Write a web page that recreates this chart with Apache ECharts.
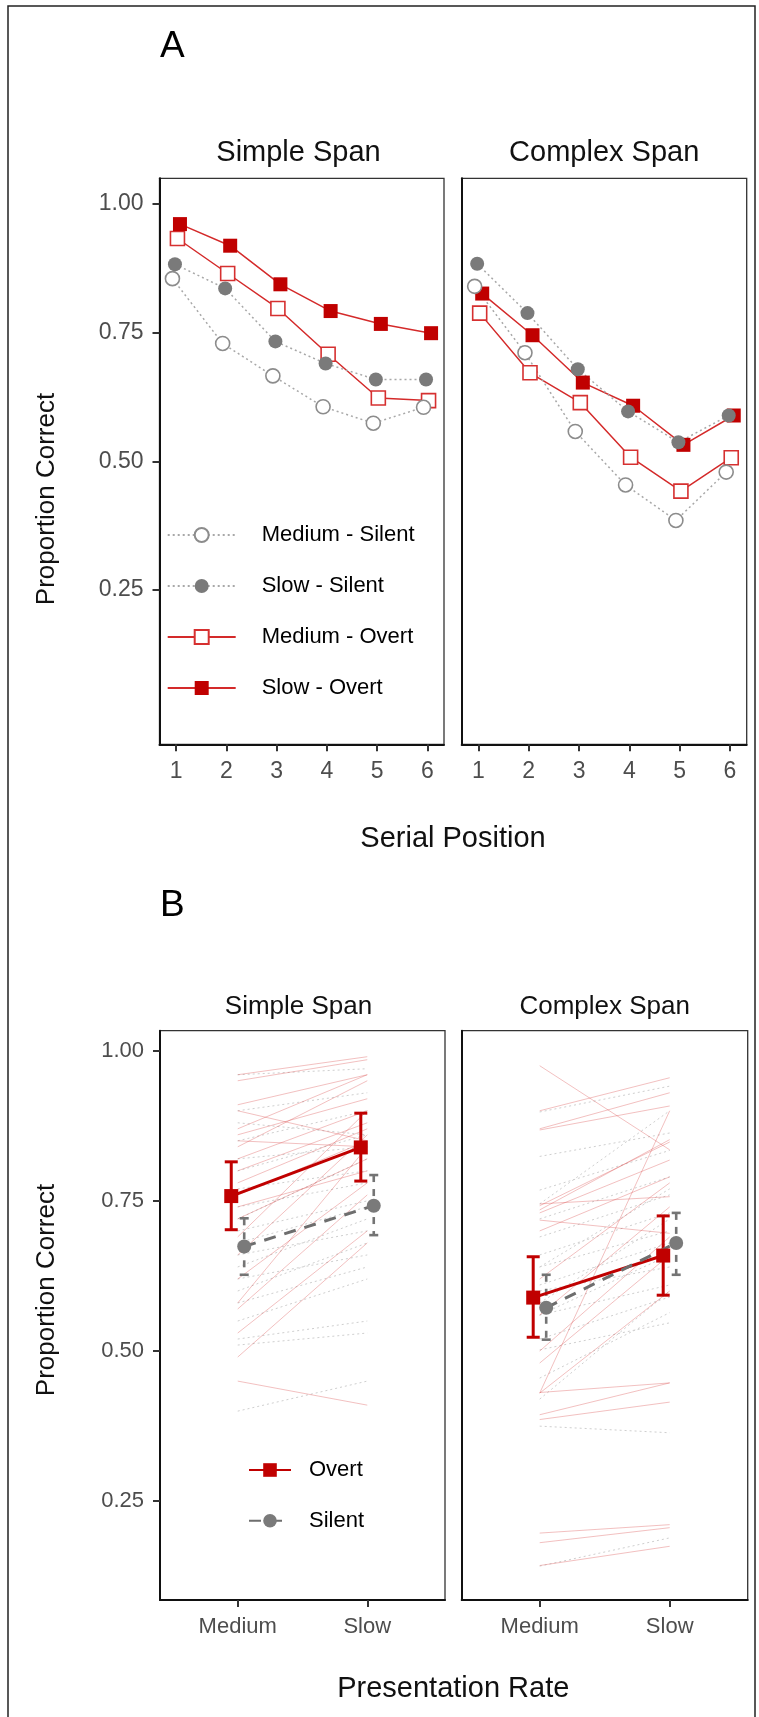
<!DOCTYPE html>
<html>
<head>
<meta charset="utf-8">
<script src="https://cdn.jsdelivr.net/npm/echarts@6/dist/echarts.min.js"></script>
<style>
  html, body { margin: 0; padding: 0; background: #ffffff; }
  #chart { width: 759px; height: 1717px; }
</style>
</head>
<body>
<div id="chart"></div>
<script>
// ---------- Panel A: proportion correct by serial position ----------
const serialPositions = [1, 2, 3, 4, 5, 6];
const yTicks = [0.25, 0.5, 0.75, 1.0];

const simpleMediumSilent = [0.855, 0.729, 0.666, 0.606, 0.574, 0.605];
const simpleSlowSilent   = [0.883, 0.836, 0.733, 0.690, 0.659, 0.659];
const simpleMediumOvert  = [0.933, 0.865, 0.797, 0.708, 0.623, 0.618];
const simpleSlowOvert    = [0.961, 0.919, 0.844, 0.792, 0.767, 0.749];

const complexMediumSilent = [0.840, 0.711, 0.558, 0.454, 0.385, 0.479];
const complexSlowSilent   = [0.884, 0.788, 0.679, 0.597, 0.537, 0.589];
const complexMediumOvert  = [0.788, 0.672, 0.614, 0.508, 0.442, 0.507];
const complexSlowOvert    = [0.826, 0.745, 0.653, 0.608, 0.532, 0.589];

// ---------- Panel B: presentation rate ----------
const rates = ['Medium', 'Slow'];

// group means with interval bounds [Medium, Slow]
const simpleOvertMean = [0.758, 0.839];
const simpleOvertLow  = [0.702, 0.783];
const simpleOvertHigh = [0.815, 0.896];
const simpleSilentMean = [0.674, 0.742];
const simpleSilentLow  = [0.627, 0.693];
const simpleSilentHigh = [0.721, 0.793];

const complexOvertMean = [0.589, 0.659];
const complexOvertLow  = [0.523, 0.593];
const complexOvertHigh = [0.657, 0.725];
const complexSilentMean = [0.572, 0.680];
const complexSilentLow  = [0.519, 0.627];
const complexSilentHigh = [0.627, 0.730];

// individual participants: [Medium, Slow]
const simpleOvertPeople = [
  [0.96, 0.99], [0.95, 0.985], [0.91, 0.96], [0.90, 0.85], [0.87, 0.96], [0.86, 0.92],
  [0.85, 0.84], [0.84, 0.95], [0.82, 0.90], [0.80, 0.88], [0.78, 0.87], [0.76, 0.85],
  [0.74, 0.80], [0.72, 0.82], [0.69, 0.90], [0.66, 0.86], [0.62, 0.78], [0.57, 0.76],
  [0.53, 0.70], [0.49, 0.68], [0.45, 0.41], [0.58, 0.84]
];
const simpleSilentPeople = [
  [0.96, 0.97], [0.90, 0.93], [0.88, 0.86], [0.85, 0.90], [0.82, 0.84], [0.80, 0.86],
  [0.77, 0.80], [0.74, 0.78], [0.72, 0.82], [0.70, 0.75], [0.68, 0.74], [0.66, 0.70],
  [0.64, 0.72], [0.62, 0.66], [0.60, 0.68], [0.58, 0.64], [0.55, 0.62], [0.52, 0.55],
  [0.51, 0.53], [0.40, 0.45]
];
const complexOvertPeople = [
  [0.975, 0.835], [0.900, 0.955], [0.870, 0.930], [0.868, 0.908], [0.742, 0.848], [0.735, 0.852],
  [0.730, 0.818], [0.745, 0.757], [0.718, 0.696], [0.700, 0.790], [0.620, 0.780], [0.560, 0.740],
  [0.430, 0.900], [0.430, 0.600], [0.431, 0.447], [0.394, 0.447], [0.386, 0.415], [0.197, 0.211],
  [0.181, 0.206], [0.143, 0.175], [0.500, 0.690], [0.480, 0.660]
];
const complexSilentPeople = [
  [0.898, 0.941], [0.824, 0.863], [0.768, 0.834], [0.745, 0.900], [0.720, 0.790], [0.690, 0.760],
  [0.660, 0.730], [0.640, 0.700], [0.610, 0.680], [0.600, 0.640], [0.580, 0.720], [0.560, 0.610],
  [0.520, 0.590], [0.502, 0.547], [0.455, 0.564], [0.420, 0.600], [0.375, 0.364], [0.142, 0.189],
  [0.640, 0.770], [0.560, 0.660]
];

// ---------- styling ----------
const FONT = "'Liberation Sans', Arial, Helvetica, sans-serif";
const RED = '#c00000';
const RED_LINE = '#d42a2a';
const GREY_PT = '#7a7a7a';
const GREY_LINE = '#a8a8a8';
const TICK_TEXT = '#4d4d4d';
const MARK_A = 14;

const condStyle = {
  'Medium - Silent': { dodge: -0.075, symbol: 'circle', fill: '#ffffff', stroke: '#8c8c8c', bw: 1.6, line: GREY_LINE, type: [2, 3] },
  'Slow - Silent':   { dodge: -0.025, symbol: 'circle', fill: GREY_PT, stroke: GREY_PT, bw: 0, line: GREY_LINE, type: [2, 3] },
  'Medium - Overt':  { dodge: 0.025, symbol: 'rect', fill: '#ffffff', stroke: '#d63030', bw: 1.6, line: RED_LINE, type: 'solid' },
  'Slow - Overt':    { dodge: 0.075, symbol: 'rect', fill: RED, stroke: RED, bw: 0, line: RED_LINE, type: 'solid' }
};
const legendOrderA = ['Medium - Silent', 'Slow - Silent', 'Medium - Overt', 'Slow - Overt'];
const drawOrderA = ['Medium - Overt', 'Slow - Overt', 'Medium - Silent', 'Slow - Silent'];

const panelsA = [
  { grid: 0, values: { 'Medium - Silent': simpleMediumSilent, 'Slow - Silent': simpleSlowSilent,
                       'Medium - Overt': simpleMediumOvert, 'Slow - Overt': simpleSlowOvert } },
  { grid: 1, values: { 'Medium - Silent': complexMediumSilent, 'Slow - Silent': complexSlowSilent,
                       'Medium - Overt': complexMediumOvert, 'Slow - Overt': complexSlowOvert } }
];

const series = [];

// connecting lines (legend icons come from these)
panelsA.forEach(p => {
  drawOrderA.forEach(name => {
    const s = condStyle[name];
    series.push({
      name, type: 'line', xAxisIndex: p.grid, yAxisIndex: p.grid, z: 2, silent: true,
      showSymbol: false, symbol: s.symbol, symbolSize: MARK_A,
      itemStyle: { color: s.fill, borderColor: s.stroke, borderWidth: s.bw },
      lineStyle: { color: s.line, width: 1.5, type: s.type },
      data: serialPositions.map((x, i) => [x + s.dodge, p.values[name][i]])
    });
  });
});
// points drawn above every line
panelsA.forEach(p => {
  drawOrderA.forEach(name => {
    const s = condStyle[name];
    series.push({
      name: name + ' points', type: 'scatter', xAxisIndex: p.grid, yAxisIndex: p.grid, z: 3, silent: true,
      symbol: s.symbol, symbolSize: MARK_A,
      itemStyle: { color: s.fill, borderColor: s.stroke, borderWidth: s.bw, opacity: 1 },
      data: serialPositions.map((x, i) => [x + s.dodge, p.values[name][i]])
    });
  });
});

// ---------- Panel B series ----------
const OVERT_DODGE = -0.05, SILENT_DODGE = 0.05;

function peopleSeries(grid, people, color, type) {
  return {
    type: 'lines', coordinateSystem: 'cartesian2d', xAxisIndex: grid, yAxisIndex: grid,
    z: 1, silent: true, polyline: false,
    lineStyle: { color, width: 1, type, opacity: 1, curveness: 0 },
    data: people.map(v => ({ coords: [[1, v[0]], [2, v[1]]] }))
  };
}

function errorBars(grid, low, high, dodge, color, dash, capHalf, width) {
  return {
    type: 'custom', xAxisIndex: grid, yAxisIndex: grid, z: 4, silent: true,
    encode: { x: 0, y: [1, 2] },
    data: rates.map((r, i) => [i + 1 + dodge, low[i], high[i]]),
    renderItem(params, api) {
      const x = api.value(0);
      const top = api.coord([x, api.value(2)]);
      const bot = api.coord([x, api.value(1)]);
      const solid = { stroke: color, lineWidth: width };
      return {
        type: 'group',
        children: [
          { type: 'line', shape: { x1: top[0], y1: top[1], x2: bot[0], y2: bot[1] },
            style: { stroke: color, lineWidth: width, lineDash: dash } },
          { type: 'line', shape: { x1: top[0] - capHalf, y1: top[1], x2: top[0] + capHalf, y2: top[1] }, style: solid },
          { type: 'line', shape: { x1: bot[0] - capHalf, y1: bot[1], x2: bot[0] + capHalf, y2: bot[1] }, style: solid }
        ]
      };
    }
  };
}

function meanSeries(grid, name, mean, dodge, opts) {
  return {
    name, type: 'line', xAxisIndex: grid, yAxisIndex: grid, z: 5, silent: true,
    symbol: opts.symbol, symbolSize: 14, showSymbol: true,
    itemStyle: { color: opts.color },
    lineStyle: { color: opts.line, width: 3, type: opts.type },
    data: rates.map((r, i) => [i + 1 + dodge, mean[i]])
  };
}

const panelsB = [
  { grid: 2, op: simpleOvertPeople, sp: simpleSilentPeople,
    om: simpleOvertMean, ol: simpleOvertLow, oh: simpleOvertHigh,
    sm: simpleSilentMean, sl: simpleSilentLow, sh: simpleSilentHigh },
  { grid: 3, op: complexOvertPeople, sp: complexSilentPeople,
    om: complexOvertMean, ol: complexOvertLow, oh: complexOvertHigh,
    sm: complexSilentMean, sl: complexSilentLow, sh: complexSilentHigh }
];

panelsB.forEach(p => {
  series.push(peopleSeries(p.grid, p.sp, '#cfcfcf', [2, 3]));
  series.push(peopleSeries(p.grid, p.op, 'rgba(215, 60, 60, 0.32)', 'solid'));
});
panelsB.forEach(p => {
  series.push(meanSeries(p.grid, 'Overt', p.om, OVERT_DODGE, { symbol: 'rect', color: RED, line: RED, type: 'solid' }));
  series.push(meanSeries(p.grid, 'Silent', p.sm, SILENT_DODGE, { symbol: 'circle', color: GREY_PT, line: '#6e6e6e', type: [12, 9] }));
  series.push(errorBars(p.grid, p.ol, p.oh, OVERT_DODGE, RED, null, 6.5, 3));
  series.push(errorBars(p.grid, p.sl, p.sh, SILENT_DODGE, '#747474', [7, 7], 4.5, 2.6));
});

// ---------- axes ----------
const axisLineStyle = { color: '#111111', width: 2 };
const tickStyle = { color: '#333333', width: 2 };

function xAxisA(gi) {
  return {
    type: 'value', gridIndex: gi, min: 0.6675, max: 6.3325,
    splitLine: { show: false },
    axisLine: { show: true, onZero: false, lineStyle: axisLineStyle },
    axisTick: { show: true, customValues: serialPositions, length: 7, lineStyle: tickStyle },
    axisLabel: { customValues: serialPositions, margin: 16, fontSize: 23, color: TICK_TEXT, fontFamily: FONT }
  };
}
function xAxisB(gi) {
  return {
    type: 'value', gridIndex: gi, min: 0.4, max: 2.6,
    splitLine: { show: false },
    axisLine: { show: true, onZero: false, lineStyle: axisLineStyle },
    axisTick: { show: true, customValues: [1, 2], length: 7, lineStyle: tickStyle },
    axisLabel: { customValues: [1, 2], formatter: v => rates[Math.round(v) - 1],
                 margin: 16, fontSize: 22, color: TICK_TEXT, fontFamily: FONT }
  };
}
function yAxis(gi, min, max, showLabels, fontSize) {
  return {
    type: 'value', gridIndex: gi, min, max,
    splitLine: { show: false },
    axisLine: { show: true, onZero: false, lineStyle: axisLineStyle },
    axisTick: { show: showLabels, customValues: yTicks, length: 7, lineStyle: tickStyle },
    axisLabel: { show: showLabels, customValues: yTicks, formatter: v => v.toFixed(2),
                 margin: 16, fontSize, color: TICK_TEXT, fontFamily: FONT }
  };
}

const B_MIN = 0.0856, B_MAX = 1.0333;

const gridBase = { show: true, borderColor: '#333333', borderWidth: 1.3, backgroundColor: 'transparent' };

function label(text, x, y, size, opts = {}) {
  return {
    type: 'text', x, y, rotation: opts.rotation || 0, silent: true, z: 10,
    style: {
      text, fill: opts.color || '#111111', fontSize: size, fontFamily: FONT,
      align: opts.align || 'center', verticalAlign: 'middle',
      textAlign: opts.align || 'center', textVerticalAlign: 'middle'
    }
  };
}

const option = {
  animation: false,
  backgroundColor: '#ffffff',
  grid: [
    Object.assign({ left: 159.5, top: 178.3, width: 284.5, height: 566 }, gridBase),
    Object.assign({ left: 461.7, top: 178.3, width: 285, height: 566 }, gridBase),
    Object.assign({ left: 160, top: 1030.7, width: 285, height: 569.3 }, gridBase),
    Object.assign({ left: 461.7, top: 1030.7, width: 286, height: 569.3 }, gridBase)
  ],
  xAxis: [xAxisA(0), xAxisA(1), xAxisB(2), xAxisB(3)],
  yAxis: [
    yAxis(0, -0.05, 1.05, true, 23),
    yAxis(1, -0.05, 1.05, false, 23),
    yAxis(2, B_MIN, B_MAX, true, 22),
    yAxis(3, B_MIN, B_MAX, false, 22)
  ],
  legend: [
    {
      data: legendOrderA, orient: 'vertical', left: 166.7, top: 524,
      itemWidth: 68, itemHeight: 17.5, itemGap: 29, padding: 0, selectedMode: false,
      textStyle: { fontSize: 22, color: '#000000', fontFamily: FONT, padding: [0, 0, 0, 21] }
    },
    {
      data: ['Overt', 'Silent'], orient: 'vertical', left: 248, top: 1459,
      itemWidth: 42, itemHeight: 17, itemGap: 28.7, padding: 0, selectedMode: false,
      textStyle: { fontSize: 22, color: '#000000', fontFamily: FONT, padding: [0, 0, 0, 13] }
    }
  ],
  graphic: [
    { type: 'rect', silent: true, z: 0, shape: { x: 8, y: 6, width: 747, height: 1725 },
      style: { fill: 'none', stroke: '#222222', lineWidth: 1.5 } },
    label('A', 160, 47, 37, { align: 'left', color: '#000000' }),
    label('Simple Span', 298.5, 153, 29),
    label('Complex Span', 604.2, 153, 29),
    label('Serial Position', 453, 839, 29),
    label('Proportion Correct', 46.5, 499, 26, { rotation: Math.PI / 2 }),
    label('B', 160, 906, 37, { align: 'left', color: '#000000' }),
    label('Simple Span', 298.5, 1007, 26),
    label('Complex Span', 604.7, 1007, 26),
    label('Presentation Rate', 453.3, 1689, 29),
    label('Proportion Correct', 46.5, 1290, 26, { rotation: Math.PI / 2 })
  ],
  series
};

const chart = echarts.init(document.getElementById('chart'), null, { renderer: 'canvas' });
chart.setOption(option);
</script>
</body>
</html>
